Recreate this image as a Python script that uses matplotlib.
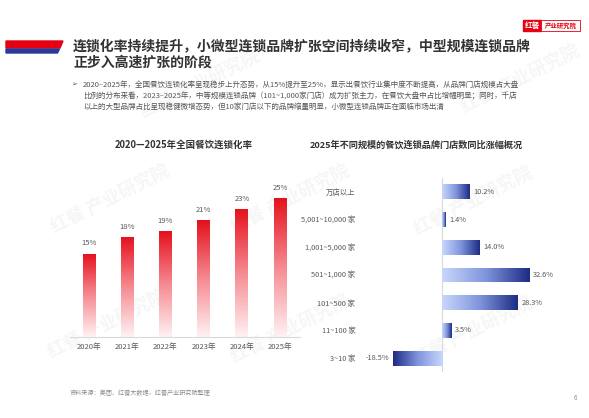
import numpy as np
import matplotlib.pyplot as plt
from matplotlib.colors import LinearSegmentedColormap
from matplotlib.patches import Polygon, Rectangle

plt.rcParams['font.family'] = ['Noto Sans CJK SC', 'DejaVu Sans']

# data
years = ['2020年', '2021年', '2022年', '2023年', '2024年', '2025年']
chain_rate = [15, 18, 19, 21, 23, 25]

scales = ['万店以上', '5,001~10,000 家', '1,001~5,000 家', '501~1,000 家',
          '101~500 家', '11~100 家', '3~10 家']
growth = [10.2, 1.4, 14.0, 32.6, 28.3, 3.5, -18.5]

title_lines = ['连锁化率持续提升，小微型连锁品牌扩张空间持续收窄，中型规模连锁品牌',
               '正步入高速扩张的阶段']
desc_lines = ['2020–2025年，全国餐饮连锁化率呈现稳步上升态势，从15%提升至25%，显示出餐饮行业集中度不断提高，从品牌门店规模占大盘',
              '比例的分布来看，2023–2025年，中等规模连锁品牌（101~1,000家门店）成为扩张主力，在餐饮大盘中占比增幅明显；同时，千店',
              '以上的大型品牌占比呈现稳健微增态势，但10家门店以下的品牌缩量明显，小微型连锁品牌正在面临市场出清']
left_title = '2020—2025年全国餐饮连锁化率'
right_title = '2025年不同规模的餐饮连锁品牌门店数同比涨幅概况'
source = '资料来源：美团、红餐大数据，红餐产业研究院整理'

W, H = 589, 418
fig = plt.figure(figsize=(W / 100, H / 100), dpi=100)


def fx(x):
    return x / W


def fy(y):
    return 1 - y / H


# faint watermarks (behind everything)
for cx, cy in [(110, 200), (107, 325), (290, 200), (473, 202), (473, 332), (290, 330), (200, 85), (520, 80)]:
    fig.text(fx(cx), fy(cy), '红餐 产业研究院', fontsize=13, color='#f6f6f6',
             rotation=27, ha='center', va='center', fontweight='bold', zorder=-5)

# header stripe
fig.patches.append(Polygon([(fx(6), fy(41)), (fx(63), fy(41)), (fx(60), fy(48)), (fx(6), fy(48))],
                           closed=True, transform=fig.transFigure, color='#e60012'))
fig.patches.append(Polygon([(fx(6), fy(49)), (fx(59.5), fy(49)), (fx(57.5), fy(53)), (fx(6), fy(53))],
                           closed=True, transform=fig.transFigure, color='#2b3a98'))

# logo
fig.patches.append(Rectangle((fx(523), fy(31)), fx(18), 11 / H, transform=fig.transFigure,
                             color='#e60012'))
fig.patches.append(Rectangle((fx(541), fy(31)), fx(39), 11 / H, transform=fig.transFigure,
                             facecolor='white', edgecolor='#e60012', lw=0.6))
fig.text(fx(532), fy(25.5), '红餐', fontsize=5.5, color='white', fontweight='bold',
         ha='center', va='center')
fig.text(fx(560.5), fy(25.5), '产业研究院', fontsize=4.6, color='#e60012', fontweight='bold',
         ha='center', va='center')

# title and description
fig.text(fx(73), fy(47), title_lines[0], fontsize=10.0, fontweight='bold', color='#333333', va='center')
fig.text(fx(73), fy(63), title_lines[1], fontsize=10.0, fontweight='bold', color='#333333', va='center')
fig.text(fx(74), fy(85), '➢', fontsize=5, color='#555555', va='center', ha='center')
for i, line in enumerate(desc_lines):
    fig.text(fx(83), fy(85 + 11 * i), line, fontsize=5.45, color='#555555', va='center')

fig.text(fx(184), fy(145), left_title, fontsize=6.8, fontweight='bold', color='#333333',
         ha='center', va='center')
fig.text(fx(310), fy(145), right_title, fontsize=6.6, fontweight='bold', color='#333333',
         va='center')

fig.text(fx(70), fy(393), source, fontsize=4.4, color='#8c8c8c', va='center')
fig.text(fx(575), fy(398), '6', fontsize=4.4, color='#8c8c8c', va='center', ha='center')

# left chart
red_cmap = LinearSegmentedColormap.from_list('red', ['#fff2f3', '#f58a91', '#e5101c'])
ax1 = fig.add_axes([fx(70), fy(337), 230 / W, 167 / H])
ax1.set_zorder(2)
x = np.arange(len(years))
bars = ax1.bar(x, chain_rate, width=0.34, color='none')
grad = np.linspace(0, 1, 256).reshape(-1, 1)
for b, v in zip(bars, chain_rate):
    x0 = b.get_x()
    im = ax1.imshow(grad, cmap=red_cmap, origin='lower', aspect='auto',
                    extent=(x0, x0 + b.get_width(), 0, v), zorder=2)
    im.set_clip_path(b)
    ax1.text(b.get_x() + b.get_width() / 2, v + 1.1, f'{v}%', ha='center', va='bottom',
             fontsize=5.5, color='#595959')
ax1.set_xlim(-0.5, 5.52)
ax1.set_ylim(0, 30)
for s in ['top', 'right', 'left']:
    ax1.spines[s].set_visible(False)
ax1.spines['bottom'].set_color('#d9d9d9')
ax1.spines['bottom'].set_linewidth(0.8)
ax1.set_yticks([])
ax1.set_xticks(x)
ax1.set_xticklabels(years, fontsize=5.5, color='#595959')
ax1.tick_params(axis='x', length=0, pad=4)
ax1.patch.set_alpha(0)

# right chart
blue_cmap = LinearSegmentedColormap.from_list('blue', ['#c9d7fb', '#7f95dc', '#1d2b85'])
ax2 = fig.add_axes([fx(388.6), fy(372), 146.9 / W, 194 / H])
ax2.set_zorder(2)
y = np.arange(len(scales))[::-1]
hbars = ax2.barh(y, growth, height=0.54, color='none')
hgrad = np.linspace(0, 1, 256).reshape(1, -1)
for b, v, yy in zip(hbars, growth, y):
    y0 = b.get_y()
    im = ax2.imshow(hgrad, cmap=blue_cmap, aspect='auto',
                    extent=(0, v, y0, y0 + b.get_height()), zorder=2)
    im.set_clip_path(b)
    if v >= 0:
        ax2.text(v + 1.4, yy, f'{v:.1f}%', ha='left', va='center', fontsize=5.3, color='#595959')
    else:
        ax2.text(v - 1.4, yy, f'{v:.1f}%', ha='right', va='center', fontsize=5.3, color='#595959')
ax2.set_xlim(-20, 35)
ax2.set_ylim(-0.5, 6.5)
ax2.axvline(0, color='#d9d9d9', lw=0.8, zorder=1)
for s in ax2.spines.values():
    s.set_visible(False)
ax2.set_xticks([])
ax2.set_yticks(y)
ax2.set_yticklabels(scales, fontsize=5.3, color='#595959')
ax2.tick_params(axis='y', length=0, pad=24)
ax2.patch.set_alpha(0)

plt.savefig('out.png', dpi=100)
